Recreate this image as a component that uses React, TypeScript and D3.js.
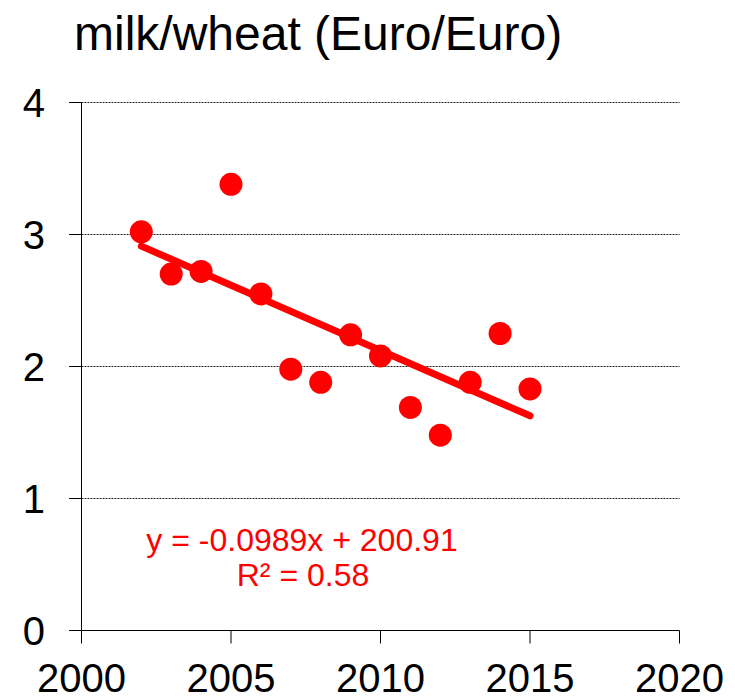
import React from "react";
import * as d3 from "d3";

const years = [2002, 2003, 2004, 2005, 2006, 2007, 2008, 2009, 2010, 2011, 2012, 2013, 2014, 2015];
const ratios = [3.02, 2.7, 2.72, 3.38, 2.55, 1.98, 1.88, 2.24, 2.08, 1.69, 1.48, 1.88, 2.25, 1.83];
const xTicks = [2000, 2005, 2010, 2015, 2020];
const yTicks = [0, 1, 2, 3, 4];
const slope = -0.0989;
const intercept = 200.91;
const equationText = "y = -0.0989x + 200.91";
const r2Text = "R² = 0.58";
const title = "milk/wheat (Euro/Euro)";

const W = 735;
const H = 699;
const FONT = "'Liberation Sans', Arial, Helvetica, sans-serif";

export default function App() {
  const x = d3.scaleLinear().domain([2000, 2020]).range([81.5, 679.5]);
  const y = d3.scaleLinear().domain([0, 4]).range([630.5, 102.5]);
  const trendYears = [d3.min(years)!, d3.max(years)!];
  const line = d3
    .line<number>()
    .x((d) => x(d))
    .y((d) => y(slope * d + intercept));

  return (
    <svg
      width={W}
      height={H}
      style={{ position: "absolute", left: 0, top: 0, background: "#fff" }}
      fontFamily={FONT}
    >
      <rect width={W} height={H} fill="#fff" />
      <text x={74} y={50} fontSize={48} fill="#000">
        {title}
      </text>
      {/* gridlines */}
      {yTicks
        .filter((t) => t > 0)
        .map((t) => (
          <line
            key={"g" + t}
            x1={x(2000)}
            x2={x(2020)}
            y1={y(t)}
            y2={y(t)}
            stroke="#222"
            strokeWidth={1}
            strokeDasharray="2,1"
          />
        ))}
      {/* y axis */}
      <line x1={x(2000)} x2={x(2000)} y1={y(4)} y2={y(0)} stroke="#000" strokeWidth={1} />
      {yTicks.map((t) => (
        <g key={"yt" + t}>
          <line x1={69} x2={x(2000)} y1={y(t)} y2={y(t)} stroke="#000" strokeWidth={1} />
          <text x={45} y={y(t) + 14.5} fontSize={40} textAnchor="end" fill="#000">
            {t}
          </text>
        </g>
      ))}
      {/* x axis */}
      <line x1={x(2000)} x2={x(2020)} y1={y(0)} y2={y(0)} stroke="#000" strokeWidth={1} />
      {xTicks.map((t) => (
        <g key={"xt" + t}>
          <line x1={x(t)} x2={x(t)} y1={y(0)} y2={y(0) + 13} stroke="#000" strokeWidth={1} />
          <text x={x(t)} y={692} fontSize={40} textAnchor="middle" fill="#000">
            {t}
          </text>
        </g>
      ))}
      {/* points */}
      {years.map((yr, i) => (
        <circle key={"p" + yr} cx={x(yr)} cy={y(ratios[i])} r={11.5} fill="#ff0000" />
      ))}
      {/* trend line */}
      <path d={line(trendYears) || ""} stroke="#ff0000" strokeWidth={7} fill="none" strokeLinecap="round" />
      {/* equation */}
      <text x={302} y={551} fontSize={32} textAnchor="middle" fill="#ff0000">
        {equationText}
      </text>
      <text x={303} y={586} fontSize={32} textAnchor="middle" fill="#ff0000">
        {r2Text}
      </text>
    </svg>
  );
}
